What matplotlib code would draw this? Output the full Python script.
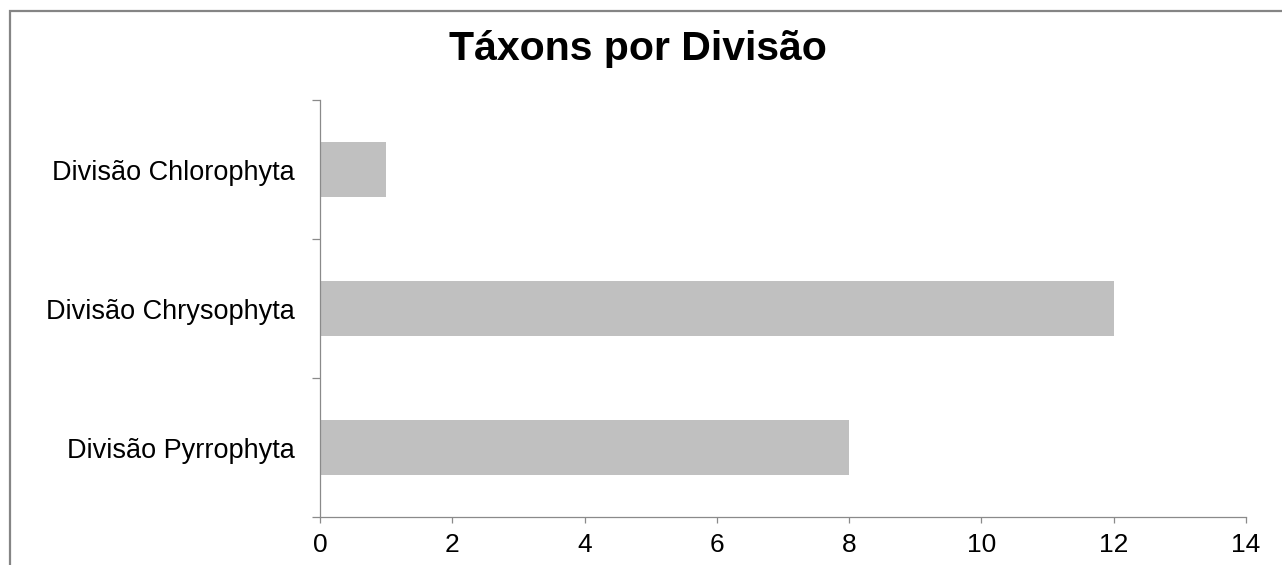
import matplotlib.pyplot as plt
from matplotlib.patches import Rectangle

# dados: número de táxons por divisão (de baixo para cima)
divisoes = ['Divisão Pyrrophyta', 'Divisão Chrysophyta', 'Divisão Chlorophyta']
taxons = [8, 12, 1]
x_ticks = [0, 2, 4, 6, 8, 10, 12, 14]

plt.rcParams['font.family'] = ['Liberation Sans', 'DejaVu Sans']

fig = plt.figure(figsize=(12.82, 5.65), dpi=100)
ax = fig.add_axes([320 / 1282, 1 - 517 / 565, 926 / 1282, 417 / 565])

# moldura cinza ao redor do gráfico
fig.patches.append(Rectangle((10 / 1282, -0.1), 1.2, 1 - 11 / 565 + 0.1,
                             transform=fig.transFigure, fill=False,
                             edgecolor='#858585', linewidth=1.6))

pos = list(range(len(divisoes)))
ax.barh(pos, taxons, height=0.4, color='#c0c0c0', edgecolor='none')

ax.set_xlim(0, 14)
ax.set_ylim(-0.5, len(divisoes) - 0.5)
ax.set_xticks(x_ticks)
ax.set_xticklabels([str(t) for t in x_ticks])

# marcas do eixo y nos limites das categorias, rótulos no centro
ax.set_yticks([p - 0.5 for p in pos] + [len(divisoes) - 0.5])
ax.set_yticklabels([])
ax.set_yticks(pos, minor=True)
ax.set_yticklabels(divisoes, minor=True)

axis_color = '#8a8a8a'
for side in ['top', 'right']:
    ax.spines[side].set_visible(False)
for side in ['left', 'bottom']:
    ax.spines[side].set_color(axis_color)
    ax.spines[side].set_linewidth(0.9)

ax.tick_params(axis='x', length=4.5, width=0.9, color=axis_color,
               labelsize=19, pad=7)
ax.tick_params(axis='y', which='major', length=6, width=0.9, color=axis_color)
ax.tick_params(axis='y', which='minor', length=0, labelsize=19.5, pad=18)

fig.text(0.498, 1 - 60 / 565, 'Táxons por Divisão', ha='center',
         va='baseline', fontsize=29.5, fontweight='bold')

fig.savefig('out.png', dpi=100)
plt.close(fig)
